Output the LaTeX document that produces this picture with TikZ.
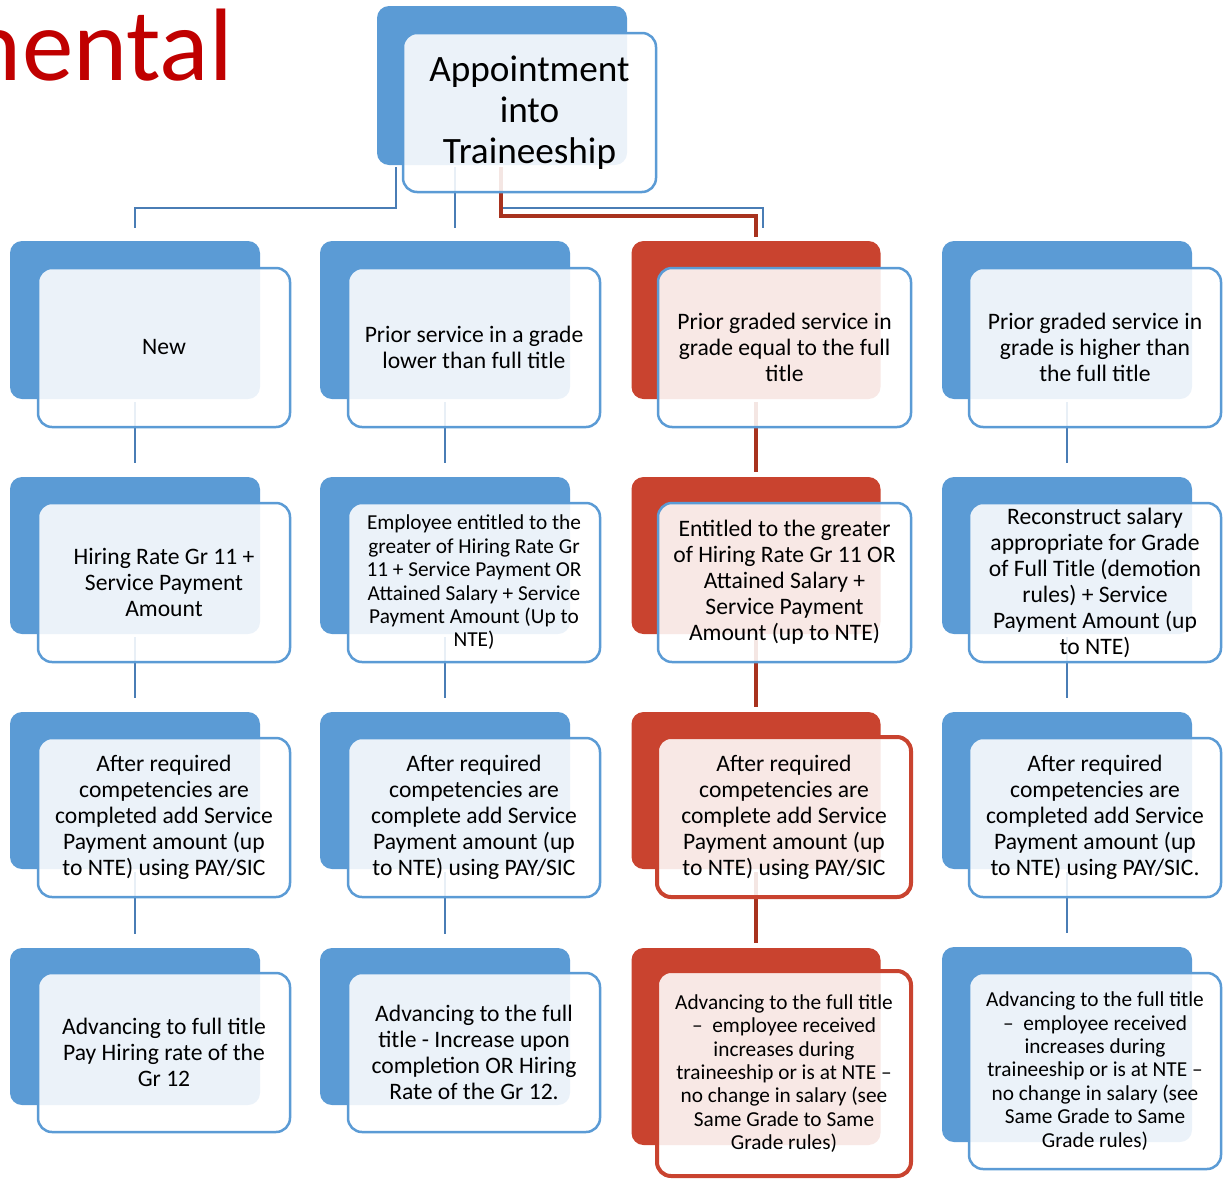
\documentclass[tikz,border=0pt]{standalone}
\usepackage{fontspec}
\setmainfont{Carlito}
\usetikzlibrary{calc}
\definecolor{sblue}{HTML}{5B9BD5}
\definecolor{sred}{HTML}{C9432F}
\definecolor{cblue}{HTML}{4A7DB5}
\definecolor{cred}{HTML}{A8321E}
\definecolor{tred}{HTML}{C00000}
\tikzset{
  backb/.style={fill=sblue, draw=none, rounded corners=12pt, inner sep=0pt, outer sep=0pt},
  backr/.style={backb, fill=sred},
  front/.style={draw=sblue, line width=2.5pt, fill=white, fill opacity=0.88, text opacity=1,
    rounded corners=14pt, inner sep=0pt, outer sep=0pt, align=center, text=black},
  frontr/.style={front, draw=sred, line width=4pt},
  big/.style={font=\fontsize{23.6}{26}\selectfont},
  small/.style={font=\fontsize{21.3}{23.4}\selectfont},
  conb/.style={draw=cblue, line width=2.5pt},
  conr/.style={draw=cred, line width=4.5pt},
}
\begin{document}
\begin{tikzpicture}[x=1pt,y=-1pt]
\useasboundingbox (0,0) rectangle (1229,1181);
% title fragment
\node[anchor=base east, inner sep=0pt, text=tred, font=\fontsize{103}{120}\selectfont] (title) at (233,80) {mental};
% back boxes
\node[backb, minimum width=250pt, minimum height=159pt] (bt) at (502,85.5) {};
\foreach \c/\x in {1/135,2/445,4/1067}{
  \node[backb, minimum width=250pt, minimum height=158pt] (b1\c) at (\x,320) {};
  \node[backb, minimum width=250pt, minimum height=157pt] (b2\c) at (\x,555.5) {};
  \node[backb, minimum width=250pt, minimum height=157pt] (b3\c) at (\x,790.5) {};
}
\node[backb, minimum width=250pt, minimum height=157pt] (b41) at (135,1026.5) {};
\node[backb, minimum width=250pt, minimum height=157pt] (b42) at (445,1026.5) {};
\node[backb, minimum width=250pt, minimum height=195pt] (b44) at (1067,1044.5) {};
\node[backr, minimum width=249pt, minimum height=158pt] (b13) at (756,320) {};
\node[backr, minimum width=249pt, minimum height=157pt] (b23) at (756,555.5) {};
\node[backr, minimum width=249pt, minimum height=157pt] (b33) at (756,790.5) {};
\node[backr, minimum width=249pt, minimum height=197pt] (b43) at (756,1046.5) {};
% connectors from the top
\draw[conb] ($(bt.south west)+(19,2)$) |- ($(b11.north)+(0,-33)$) -- ($(b11.north)+(0,-13)$);
\draw[conb] ($(bt.south)+(-47,2)$) -- ($(b12.north)+(10,-13)$);
\draw[conb] ($(bt.south)+(-2,2)$) |- ($(b13.north)+(7,-33)$) -- ($(b13.north)+(7,-13)$);
\draw[conr] ($(bt.south)+(-1,2)$) |- ($(b13.north)+(0,-25)$) -- ($(b13.north)+(0,-4)$);
% vertical connectors
\foreach \c in {1,2,4}{
  \draw[conb] ($(b1\c.south)+(0,3)$) -- ($(b2\c.north)+(0,-14)$);
  \draw[conb] ($(b2\c.south)+(0,3)$) -- ($(b3\c.north)+(0,-14)$);
  \draw[conb] ($(b3\c.south)+(0,3)$) -- ($(b4\c.north)+(0,-14)$);
}
\draw[conr] ($(b13.south)+(0,3)$) -- ($(b23.north)+(0,-5)$);
\draw[conr] ($(b23.south)+(0,3)$) -- ($(b33.north)+(0,-5)$);
\draw[conr] ($(b33.south)+(0,3)$) -- ($(b43.north)+(0,-5)$);
% front boxes
\node[front, minimum width=253pt, minimum height=159pt, font=\fontsize{37.2}{41}\selectfont] (ft) at (529.5,112.5) {Appointment\\into\\Traineeship};
% row 1
\node[front, big, minimum width=252pt, minimum height=159pt] (f11) at (164,347.5) {New};
\node[front, big, minimum width=252pt, minimum height=159pt] (f12) at (474,347.5) {Prior service in a grade\\lower than full title};
\node[front, big, minimum width=253pt, minimum height=159pt] (f13) at (784.5,347.5) {Prior graded service in\\grade equal to the full\\title};
\node[front, big, minimum width=252pt, minimum height=159pt] (f14) at (1095,347.5) {Prior graded service in\\grade is higher than\\the full title};
% row 2
\node[front, big, minimum width=252pt, minimum height=159pt] (f21) at (164,582.5) {Hiring Rate Gr 11 +\\Service Payment\\Amount};
\node[front, small, minimum width=252pt, minimum height=159pt] (f22) at (474,582.5) {Employee entitled to the\\greater of Hiring Rate Gr\\11 + Service Payment OR\\Attained Salary + Service\\Payment Amount (Up to\\NTE)};
\node[front, big, minimum width=253pt, minimum height=159pt] (f23) at (784.5,582.5) {Entitled to the greater\\of Hiring Rate Gr 11 OR\\Attained Salary +\\Service Payment\\Amount (up to NTE)};
\node[front, big, minimum width=252pt, minimum height=159pt] (f24) at (1095,582.5) {Reconstruct salary\\appropriate for Grade\\of Full Title (demotion\\rules) + Service\\Payment Amount (up\\to NTE)};
% row 3
\node[front, big, minimum width=252pt, minimum height=159pt] (f31) at (164,817.5) {After required\\competencies are\\completed add Service\\Payment amount (up\\to NTE) using PAY/SIC};
\node[front, big, minimum width=252pt, minimum height=159pt] (f32) at (474,817.5) {After required\\competencies are\\complete add Service\\Payment amount (up\\to NTE) using PAY/SIC};
\node[frontr, big, minimum width=254pt, minimum height=160pt] (f33) at (784,817) {After required\\competencies are\\complete add Service\\Payment amount (up\\to NTE) using PAY/SIC};
\node[front, big, minimum width=252pt, minimum height=159pt] (f34) at (1095,817.5) {After required\\competencies are\\completed add Service\\Payment amount (up\\to NTE) using PAY/SIC.};
% row 4
\node[front, big, minimum width=252pt, minimum height=159pt] (f41) at (164,1052.5) {Advancing to full title\\Pay Hiring rate of the\\Gr 12};
\node[front, big, minimum width=252pt, minimum height=159pt] (f42) at (474,1052.5) {Advancing to the full\\title - Increase upon\\completion OR Hiring\\Rate of the Gr 12.};
\node[frontr, small, minimum width=254pt, minimum height=205pt] (f43) at (784,1073.5) {Advancing to the full title\\–\ \ employee received\\increases during\\traineeship or is at NTE –\\no change in salary (see\\Same Grade to Same\\Grade rules)};
\node[front, small, minimum width=252pt, minimum height=196pt] (f44) at (1095,1071) {Advancing to the full title\\–\ \ employee received\\increases during\\traineeship or is at NTE –\\no change in salary (see\\Same Grade to Same\\Grade rules)};
\end{tikzpicture}
\end{document}
